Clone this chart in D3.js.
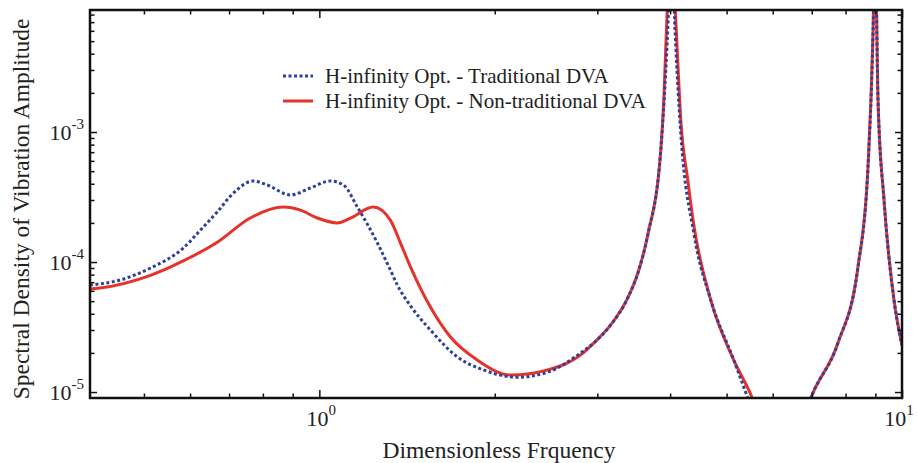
<!DOCTYPE html>
<html>
<head>
<meta charset="utf-8">
<script src="https://cdn.jsdelivr.net/npm/d3@7"></script>
<style>
  body { margin: 0; background: #fff; }
  svg text { font-family: "Liberation Serif", "Times New Roman", serif; fill: #222; }
</style>
</head>
<body>
<div id="graph"></div>
<script>
const width = 917;
const height = 463;

// series (frequency, amplitude)
const seriesNames = ["H-infinity Opt. - Traditional DVA", "H-infinity Opt. - Non-traditional DVA"];

const tradFreq = [0.404, 0.455, 0.513, 0.584, 0.625, 0.668, 0.712, 0.770, 0.814, 0.892, 0.965, 1.044, 1.100, 1.162, 1.258, 1.324, 1.361, 1.434, 1.551, 1.726, 1.913, 2.189, 2.465, 2.809, 2.957, 3.17, 3.382, 3.52, 3.661, 3.855, 3.96, 4.02, 4.08, 4.172, 4.392, 4.697, 5.144, 5.45, 6.2, 6.976, 7.762, 8.403, 8.743, 8.918, 8.99, 9.096, 9.314, 9.689, 10.0];
const tradAmp = [6.65e-5, 7.27e-5, 8.99e-5, 1.28e-4, 1.76e-4, 2.43e-4, 3.39e-4, 4.20e-4, 3.91e-4, 3.28e-4, 3.71e-4, 4.20e-4, 3.91e-4, 2.65e-4, 1.40e-4, 8.68e-5, 6.65e-5, 4.6e-5, 3.00e-5, 1.86e-5, 1.48e-5, 1.30e-5, 1.42e-5, 2.00e-5, 2.38e-5, 3.33e-5, 5.28e-5, 8.2e-5, 1.61e-4, 7.27e-4, 5.77e-3, 3e-2, 5.77e-3, 9.82e-4, 1.67e-4, 5.10e-5, 1.76e-5, 8.68e-6, 1.5e-6, 9.0e-6, 2.38e-5, 9.15e-5, 5.38e-4, 5.77e-3, 3e-2, 1.76e-3, 3.00e-4, 5.10e-5, 2.3e-5];

const nonTradFreq = [0.404, 0.420, 0.513, 0.584, 0.668, 0.761, 0.867, 0.928, 0.992, 1.074, 1.131, 1.238, 1.324, 1.378, 1.434, 1.551, 1.679, 1.868, 2.129, 2.465, 2.809, 2.957, 3.17, 3.382, 3.52, 3.661, 3.855, 3.901, 3.94, 4.02, 4.10, 4.172, 4.289, 4.392, 4.697, 5.144, 5.55, 6.2, 6.976, 7.762, 8.403, 8.743, 8.918, 8.99, 9.096, 9.314, 9.689, 10.0];
const nonTradAmp = [6.20e-5, 6.31e-5, 7.9e-5, 1.02e-4, 1.42e-4, 2.18e-4, 2.65e-4, 2.51e-4, 2.18e-4, 2.00e-4, 2.18e-4, 2.65e-4, 2.10e-4, 1.40e-4, 9.15e-5, 4.51e-5, 2.65e-5, 1.76e-5, 1.35e-5, 1.48e-5, 1.93e-5, 2.38e-5, 3.33e-5, 5.28e-5, 8.2e-5, 1.61e-4, 7.27e-4, 1.76e-3, 5.77e-3, 3e-2, 5.77e-3, 1.24e-3, 4.27e-4, 1.93e-4, 5.10e-5, 1.76e-5, 8.68e-6, 1.5e-6, 9.0e-6, 2.38e-5, 9.15e-5, 5.38e-4, 5.77e-3, 3e-2, 1.76e-3, 3.00e-4, 5.10e-5, 2.3e-5];

const xMajor = [1, 10];
const xTickLabels = [["10", "0"], ["10", "1"]];
const yMajor = [1e-5, 1e-4, 1e-3];
const yTickLabels = [["10", "-5"], ["10", "-4"], ["10", "-3"]];

const plotLeft = 90, plotRight = 902, plotTop = 10, plotBottom = 398;

const x = d3.scaleLog().domain([0.404, 10]).range([plotLeft, plotRight]);
const y = d3.scaleLog().domain([9.0e-6, 8.68e-3]).range([plotBottom, plotTop]);

function minors(lo, hi, max) {
  let out = [];
  for (let d = lo; d <= hi; d *= 10) {
    for (let k = 2; k <= 9; k++) {
      let v = k * d;
      if (v < max) out.push(v);
    }
  }
  return out;
}
const xMinor = minors(0.1, 1, 10).filter(v => v > 0.404);
const yMinor = minors(1e-5, 1e-3, 8.68e-3);

const svg = d3.select('#graph')
  .append('svg')
  .attr('width', width)
  .attr('height', height);

svg.append('clipPath').attr('id', 'clip')
  .append('rect')
  .attr('x', plotLeft).attr('y', plotTop)
  .attr('width', plotRight - plotLeft).attr('height', plotBottom - plotTop);

const line = d3.line()
  .x(d => x(d[0]))
  .y(d => y(d[1]))
  .curve(d3.curveMonotoneX);

const plot = svg.append('g').attr('clip-path', 'url(#clip)');

plot.append('path')
  .datum(d3.zip(nonTradFreq, nonTradAmp))
  .attr('d', line)
  .attr('fill', 'none')
  .attr('stroke', '#e5332c')
  .attr('stroke-width', 3);

plot.append('path')
  .datum(d3.zip(tradFreq, tradAmp))
  .attr('d', line)
  .attr('fill', 'none')
  .attr('stroke', '#2f3f9c')
  .attr('stroke-width', 3)
  .attr('stroke-dasharray', '3,2.5');

// ticks on all four sides, pointing inward
function drawTicks(axisFn, scale, values, size, transform) {
  const g = svg.append('g')
    .attr('transform', transform)
    .call(axisFn(scale).tickValues(values).tickSizeInner(-size).tickSizeOuter(0).tickFormat(''));
  g.select('.domain').remove();
  g.selectAll('.tick line').attr('stroke', '#111').attr('stroke-width', 1.5);
}

drawTicks(d3.axisBottom, x, xMajor, 8, `translate(0,${plotBottom})`);
drawTicks(d3.axisBottom, x, xMinor, 4.5, `translate(0,${plotBottom})`);
drawTicks(d3.axisTop, x, xMajor, 8, `translate(0,${plotTop})`);
drawTicks(d3.axisTop, x, xMinor, 4.5, `translate(0,${plotTop})`);
drawTicks(d3.axisLeft, y, yMajor, 7, `translate(${plotLeft},0)`);
drawTicks(d3.axisLeft, y, yMinor, 4.5, `translate(${plotLeft},0)`);
drawTicks(d3.axisRight, y, yMajor, 7, `translate(${plotRight},0)`);
drawTicks(d3.axisRight, y, yMinor, 4.5, `translate(${plotRight},0)`);

svg.append('rect')
  .attr('x', plotLeft).attr('y', plotTop)
  .attr('width', plotRight - plotLeft).attr('height', plotBottom - plotTop)
  .attr('fill', 'none')
  .attr('stroke', '#111')
  .attr('stroke-width', 2.5);

// tick labels with superscripts
xMajor.forEach((v, i) => {
  let t = svg.append('text')
    .attr('x', Math.min(x(v) + 2, width - 18)).attr('y', 426)
    .attr('text-anchor', 'middle')
    .style('font-size', '22px');
  t.append('tspan').text(xTickLabels[i][0]);
  t.append('tspan').attr('dy', -11).style('font-size', '15px').text(xTickLabels[i][1]);
});

yMajor.forEach((v, i) => {
  let t = svg.append('text')
    .attr('x', 84).attr('y', y(v) + 8)
    .attr('text-anchor', 'end')
    .style('font-size', '22px');
  t.append('tspan').text(yTickLabels[i][0]);
  t.append('tspan').attr('dy', -11).style('font-size', '15px').text(yTickLabels[i][1]);
});

svg.append('text')
  .attr('x', 499).attr('y', 458)
  .attr('text-anchor', 'middle')
  .style('font-size', '23.5px')
  .text('Dimensionless Frquency');

svg.append('text')
  .attr('transform', 'translate(29,209) rotate(-90)')
  .attr('text-anchor', 'middle')
  .style('font-size', '23.5px')
  .text('Spectral Density of Vibration Amplitude');

// legend
const legend = svg.append('g');
const legendStyles = [
  { color: '#2f3f9c', dash: '3,2.5' },
  { color: '#e5332c', dash: null }
];
seriesNames.forEach((name, i) => {
  let yy = 76 + i * 25;
  legend.append('line')
    .attr('x1', 283).attr('x2', 313)
    .attr('y1', yy).attr('y2', yy)
    .attr('stroke', legendStyles[i].color)
    .attr('stroke-width', 3)
    .attr('stroke-dasharray', legendStyles[i].dash);
  legend.append('text')
    .attr('x', 325).attr('y', yy + 7)
    .style('font-size', '21px')
    .text(name);
});
</script>
</body>
</html>
